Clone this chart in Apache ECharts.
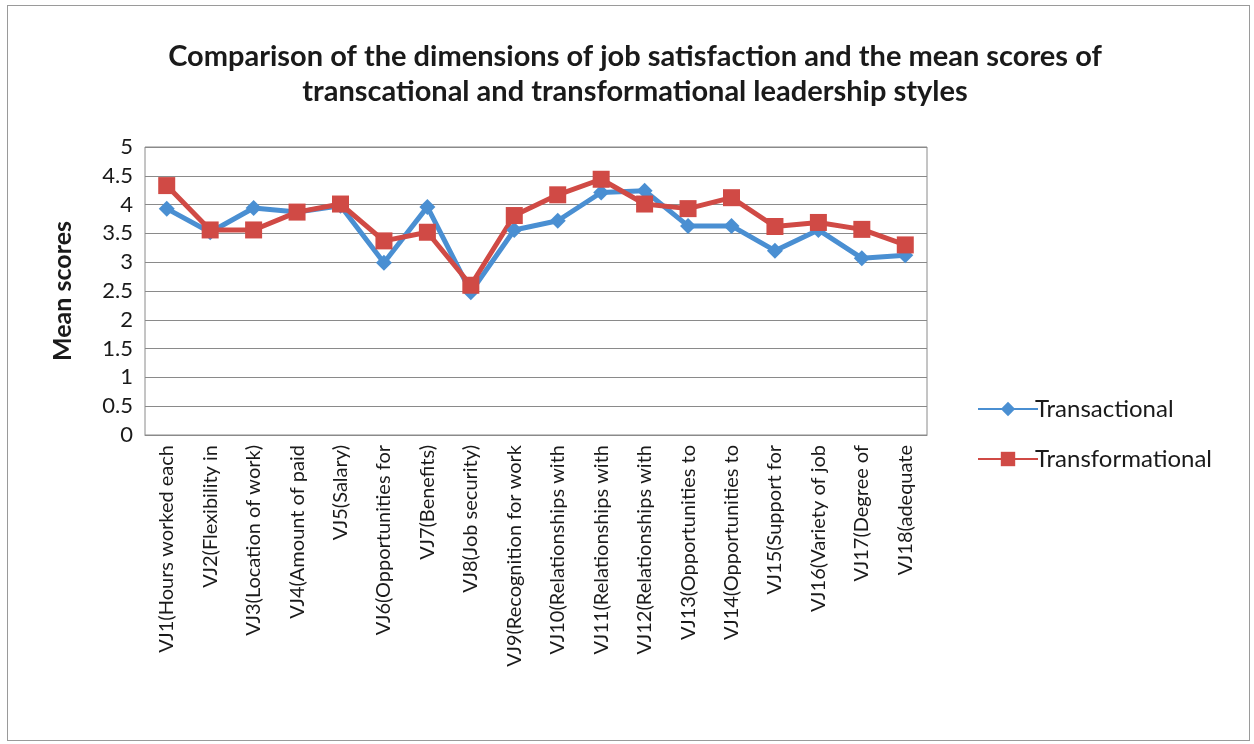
<!DOCTYPE html>
<html>
<head>
<meta charset="utf-8">
<script src="https://cdn.jsdelivr.net/npm/echarts@6/dist/echarts.min.js"></script>
<style>
html,body{margin:0;padding:0;background:#fff;}
#frame{position:absolute;left:7px;top:5px;width:1241px;height:734px;border:1px solid #9a9a9a;}
#chart{width:1254px;height:744px;}
</style>
</head>
<body>
<div id="frame"></div>
<div id="chart"></div>
<script>
// 横轴分类
var categories = ["VJ1(Hours worked each", "VJ2(Flexibility in", "VJ3(Location of work)", "VJ4(Amount of paid",
	"VJ5(Salary)", "VJ6(Opportunities for", "VJ7(Benefits)", "VJ8(Job security)", "VJ9(Recognition for work",
	"VJ10(Relationships with", "VJ11(Relationships with", "VJ12(Relationships with", "VJ13(Opportunities to",
	"VJ14(Opportunities to", "VJ15(Support for", "VJ16(Variety of job", "VJ17(Degree of", "VJ18(adequate"];
var transactional = [3.93, 3.52, 3.94, 3.87, 3.98, 2.99, 3.96, 2.48, 3.56, 3.72, 4.21, 4.24, 3.63, 3.63, 3.2, 3.56, 3.07, 3.12];
var transformational = [4.33, 3.56, 3.56, 3.87, 4.01, 3.37, 3.52, 2.6, 3.81, 4.17, 4.44, 4.01, 3.93, 4.12, 3.62, 3.69, 3.57, 3.3];
var yTicks = [0, 0.5, 1, 1.5, 2, 2.5, 3, 3.5, 4, 4.5, 5];

var blue = "#4a8fd2";
var red = "#d04a45";
var font = "Lato, 'Open Sans', sans-serif";

var chart = echarts.init(document.getElementById("chart"));
var option = {
	animation: false,
	title: {
		text: "Comparison of the dimensions of job satisfaction and the mean scores of\ntranscational and transformational leadership styles",
		left: 630,
		top: 34,
		textAlign: "center",
		textStyle: {fontFamily: font, fontSize: 29, fontWeight: "bold", color: "#1a1a1a", lineHeight: 35}
	},
	legend: {
		orient: "vertical",
		left: 972,
		top: 392,
		itemGap: 26,
		itemWidth: 60,
		itemHeight: 18,
		textStyle: {fontFamily: font, fontSize: 24, color: "#1a1a1a", padding: [0, 0, 0, -8]},
		data: ["Transactional", "Transformational"]
	},
	grid: {
		left: 145, right: 327, top: 147, bottom: 309,
		show: true, borderColor: "#8a8a8a", borderWidth: 1
	},
	xAxis: {
		type: "category",
		data: categories,
		boundaryGap: true,
		axisLine: {lineStyle: {color: "#8a8a8a"}},
		axisTick: {show: false},
		axisLabel: {rotate: 90, interval: 0, fontFamily: font, fontSize: 20, color: "#1a1a1a", margin: 10}
	},
	yAxis: {
		type: "value",
		min: 0, max: 5, interval: 0.5,
		name: "Mean scores",
		nameLocation: "middle",
		nameGap: 70,
		nameTextStyle: {fontFamily: font, fontSize: 25, fontWeight: "bold", color: "#1a1a1a"},
		axisLine: {show: false},
		axisTick: {show: false},
		axisLabel: {
			fontFamily: font, fontSize: 22, color: "#1a1a1a", margin: 12,
			formatter: function (v) { return yTicks.indexOf(v) >= 0 ? String(v) : ""; }
		},
		splitLine: {lineStyle: {color: "#8a8a8a", width: 1}}
	},
	series: [
		{
			name: "Transactional",
			type: "line",
			data: transactional,
			symbol: "diamond",
			symbolSize: 16,
			lineStyle: {color: blue, width: 5},
			itemStyle: {color: blue}
		},
		{
			name: "Transformational",
			type: "line",
			data: transformational,
			symbol: "rect",
			symbolSize: 17,
			lineStyle: {color: red, width: 5},
			itemStyle: {color: red}
		}
	]
};
chart.setOption(option);
</script>
</body>
</html>
